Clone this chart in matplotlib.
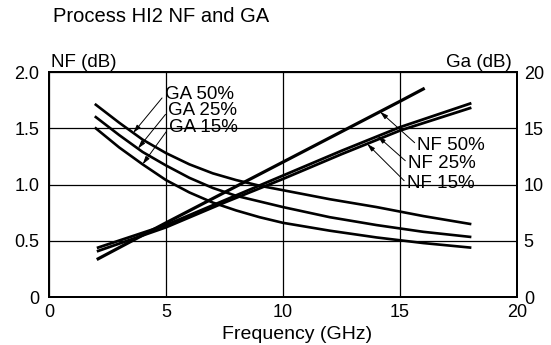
import numpy as np
import matplotlib
matplotlib.use("Agg")
import matplotlib.pyplot as plt

plt.rcParams['font.family'] = ['Liberation Sans', 'DejaVu Sans']

# gain curves, Ga (dB) on right axis
ga_freq = [2, 3, 4, 5, 6, 7, 8, 9, 10, 12, 14, 16, 18]
ga_50 = [17.1, 15.5, 14.0, 12.8, 11.8, 11.0, 10.4, 9.9, 9.5, 8.7, 8.0, 7.2, 6.5]
ga_25 = [16.0, 14.4, 12.9, 11.7, 10.6, 9.7, 9.0, 8.5, 8.0, 7.1, 6.4, 5.8, 5.35]
ga_15 = [15.0, 13.3, 11.8, 10.4, 9.3, 8.4, 7.7, 7.1, 6.6, 5.9, 5.3, 4.8, 4.4]

# noise figure curves, NF (dB) on left axis
nf50_freq = [2.1, 5.0, 7.5, 10.0, 12.5, 15.0, 16.0]
nf_50 = [0.34, 0.66, 0.93, 1.20, 1.47, 1.74, 1.85]
nf_freq = [2.1, 5.0, 7.5, 10.0, 12.5, 15.0, 18.0]
nf_25 = [0.44, 0.64, 0.86, 1.08, 1.30, 1.51, 1.72]
nf_15 = [0.41, 0.62, 0.84, 1.05, 1.27, 1.48, 1.68]

fig = plt.figure(figsize=(5.51, 3.45), dpi=100)
ax = fig.add_axes([0.089, 0.139, 0.849, 0.652])
ax2 = ax.twinx()

lw = 1.9
ax2.plot(ga_freq, ga_50, color="k", lw=lw)
ax2.plot(ga_freq, ga_25, color="k", lw=lw)
ax2.plot(ga_freq, ga_15, color="k", lw=lw)
ax.plot(nf50_freq, nf_50, color="k", lw=2.3)
ax.plot(nf_freq, nf_25, color="k", lw=2.0)
ax.plot(nf_freq, nf_15, color="k", lw=2.0)

ax.set_xlim(0, 20)
ax.set_ylim(0, 2.0)
ax2.set_ylim(0, 20)
ax.set_xticks([0, 5, 10, 15, 20])
ax.set_yticks([0, 0.5, 1.0, 1.5, 2.0])
ax.set_yticklabels(["0", "0.5", "1.0", "1.5", "2.0"])
ax2.set_yticks([0, 5, 10, 15, 20])
ax.grid(True, color="k", lw=0.9)
for a in (ax, ax2):
    a.tick_params(length=0, labelsize=13, pad=5)
    for s in a.spines.values():
        s.set_linewidth(1.4)
ax.tick_params(axis="y", pad=7)

ax.set_xlabel("Frequency (GHz)", fontsize=14)
ax.xaxis.set_label_coords(0.53, -0.13)
ax.text(0.005, 1.005, "NF (dB)", transform=ax.transAxes, fontsize=13.5,
        ha="left", va="bottom")
ax.text(0.99, 1.005, "Ga (dB)", transform=ax.transAxes, fontsize=13.5,
        ha="right", va="bottom")
fig.text(0.097, 0.951, "Process HI2 NF and GA", fontsize=14.5, ha="left", va="center")

arrow = dict(arrowstyle="-|>,head_length=0.35,head_width=0.1", color="k",
             lw=0.7, shrinkA=0, shrinkB=0, relpos=(0, 0.5))

# GA labels with leaders (in NF units, Ga/10)
for name, curve, tip, pos in [("GA 50%", ga_50, 3.6, (4.95, 1.80)),
                              ("GA 25%", ga_25, 3.8, (5.1, 1.655)),
                              ("GA 15%", ga_15, 4.0, (5.15, 1.51))]:
    ty = np.interp(tip, ga_freq, curve) / 10
    ax.annotate(name, xy=(tip, ty), xytext=pos, fontsize=13.5,
                ha="left", va="center", arrowprops=arrow)

for name, fx, curve, tip, pos in [("NF 50%", nf50_freq, nf_50, 14.15, (15.75, 1.35)),
                                  ("NF 25%", nf_freq, nf_25, 14.05, (15.35, 1.19)),
                                  ("NF 15%", nf_freq, nf_15, 13.6, (15.3, 1.01))]:
    ty = np.interp(tip, fx, curve)
    ax.annotate(name, xy=(tip, ty), xytext=pos, fontsize=13.5,
                ha="left", va="center", arrowprops=arrow)

fig.savefig("out.png", dpi=100)
